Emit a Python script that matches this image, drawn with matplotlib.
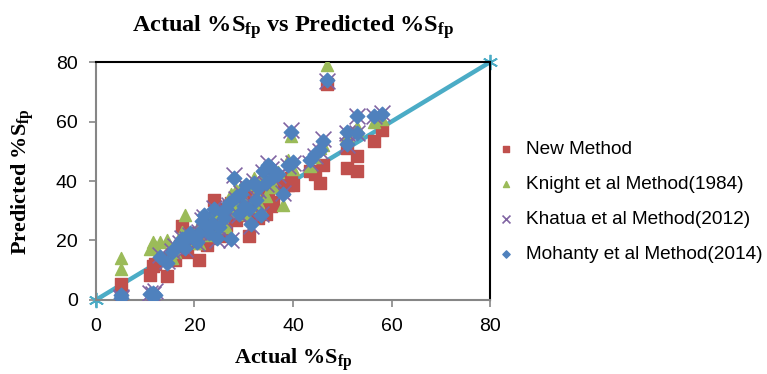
import matplotlib
matplotlib.use('Agg')
import matplotlib.pyplot as plt

plt.rcParams['font.family'] = 'Liberation Sans'
plt.rcParams['mathtext.fontset'] = 'custom'
plt.rcParams['mathtext.rm'] = 'Liberation Serif'
plt.rcParams['mathtext.bf'] = 'Liberation Serif:bold'
plt.rcParams['mathtext.it'] = 'Liberation Serif:italic'

# measured %Sfp and the values given by each method
actual = [5.0, 5.0, 11.0, 11.5, 12.0, 13.0, 14.5, 15.5, 16.0, 17.0, 17.5, 18.0,
          18.5, 19.0, 20.0, 20.5, 21.0, 21.5, 22.0, 22.5, 23.0, 23.5, 24.0, 24.5,
          25.0, 25.5, 26.0, 26.5, 27.0, 27.5, 28.0, 28.5, 29.0, 29.5, 30.0, 30.5,
          31.0, 31.5, 32.0, 32.5, 33.0, 33.5, 34.0, 34.5, 35.0, 35.5, 36.0, 37.0,
          38.0, 39.0, 39.5, 40.0, 43.5, 44.5, 45.5, 46.0, 47.0, 51.0, 51.0, 53.0,
          53.0, 56.5, 58.0]
new_method = [5.5, 1.0, 8.5, 11.5, 12.0, 14.0, 8.0, 15.0, 13.5, 18.0, 25.0, 19.5,
              16.0, 21.0, 19.0, 22.5, 13.5, 20.0, 24.0, 18.5, 26.0, 21.0, 33.5, 23.0,
              28.0, 21.5, 30.5, 25.0, 31.5, 32.5, 29.5, 27.0, 35.0, 31.0, 28.5, 33.0,
              21.5, 36.0, 30.0, 34.0, 27.5, 38.0, 32.0, 29.0, 35.5, 31.5, 33.0, 40.0,
              37.0, 38.5, 41.0, 38.5, 43.5, 42.5, 39.5, 45.5, 72.5, 51.0, 44.5, 48.5,
              43.5, 53.5, 57.0]
knight = [14.0, 10.5, 17.0, 19.5, 18.0, 19.5, 20.0, 14.0, 16.0, 18.5, 23.0, 28.5,
          21.0, 20.5, 22.0, 24.0, 19.0, 25.5, 26.0, 23.0, 22.0, 24.5, 29.0, 27.0,
          26.0, 28.0, 31.0, 24.5, 33.5, 35.5, 30.0, 37.0, 32.0, 38.0, 34.0, 29.0,
          31.5, 39.0, 41.0, 36.0, 33.0, 30.5, 41.5, 35.0, 44.5, 40.5, 38.0, 43.0,
          32.0, 47.0, 55.0, 44.0, 45.0, 48.0, 51.0, 52.0, 79.0, 55.0, 54.0, 57.0,
          58.0, 60.0, 61.0]
khatua = [1.0, 0.5, 2.5, 2.0, 3.0, 15.0, 13.0, 16.5, 18.0, 19.0, 21.0, 17.0,
          20.5, 22.0, 21.0, 19.0, 23.0, 27.0, 28.0, 24.0, 22.0, 25.5, 31.0, 20.0,
          24.0, 29.0, 27.0, 30.0, 32.0, 20.0, 42.0, 34.0, 28.5, 36.0, 32.0, 38.0,
          30.0, 25.0, 40.0, 33.0, 37.0, 29.0, 43.0, 39.0, 46.0, 44.0, 41.0, 42.0,
          36.0, 45.0, 57.0, 46.0, 46.0, 48.5, 50.0, 54.0, 73.5, 56.0, 52.0, 62.0,
          56.0, 62.0, 63.0]
mohanty = [1.5, 0.5, 2.0, 2.5, 1.5, 14.5, 12.5, 16.0, 17.5, 19.5, 20.5, 17.5,
           21.0, 22.5, 20.5, 19.5, 22.5, 26.5, 28.5, 24.5, 22.5, 26.0, 30.5, 21.0,
           24.5, 29.5, 27.5, 30.5, 32.5, 20.5, 41.0, 34.5, 29.0, 35.5, 31.5, 38.5,
           30.5, 25.5, 39.5, 33.5, 37.5, 28.5, 43.5, 39.5, 45.5, 44.5, 41.5, 42.5,
           35.5, 45.5, 56.5, 46.5, 47.0, 49.0, 50.5, 53.5, 74.0, 56.5, 52.5, 62.0,
           56.0, 62.0, 62.5]
line_x = [0, 80]
line_y = [0, 80]

fig = plt.figure(figsize=(7.67, 3.74), dpi=100)
ax = fig.add_axes([0.125, 0.198, 0.514, 0.636])

ax.plot(line_x, line_y, color='#4BACC6', lw=3.2, marker=(6, 2, 0), ms=11,
        mew=1.3, clip_on=False, zorder=2)
ax.scatter(actual, new_method, marker='s', s=70, color='#C0504D', zorder=3,
           label='New Method')
ax.scatter(actual, knight, marker='^', s=75, color='#9BBB59', zorder=4,
           label='Knight et al Method(1984)')
ax.scatter(actual, khatua, marker='x', s=130, color='#8064A2', linewidths=1.2,
           zorder=5, label='Khatua et al Method(2012)')
ax.scatter(actual, mohanty, marker='D', s=55, color='#4F81BD', zorder=6,
           label='Mohanty et al Method(2014)')

ax.set_xlim(0, 80)
ax.set_ylim(0, 80)
ax.set_xticks([0, 20, 40, 60, 80])
ax.set_yticks([0, 20, 40, 60, 80])
ax.tick_params(direction='out', length=5, width=1.2, color='#868686',
               labelsize=14, pad=8)

for side in ['left', 'bottom']:
    ax.spines[side].set_color('#868686')
    ax.spines[side].set_linewidth(1.5)
for side in ['top', 'right']:
    ax.spines[side].set_color('black')
    ax.spines[side].set_linewidth(1.5)

ax.set_title(r'Actual $\mathbf{\%S_{fp}}$ vs Predicted $\mathbf{\%S_{fp}}$',
             fontsize=17.5, fontweight='bold', family='Liberation Serif', pad=22)
ax.set_xlabel(r'Actual $\mathbf{\%S_{fp}}$', fontsize=16, fontweight='bold',
              family='Liberation Serif', labelpad=8)
ax.set_ylabel(r'Predicted $\mathbf{\%S_{fp}}$', fontsize=16, fontweight='bold',
              family='Liberation Serif', labelpad=14)

fig.legend(loc='center left', bbox_to_anchor=(0.622, 0.46), frameon=False,
           fontsize=13.7, markerscale=0.5, handletextpad=0.45,
           labelspacing=0.92, handlelength=1.2)

fig.savefig('out.png', dpi=100)
